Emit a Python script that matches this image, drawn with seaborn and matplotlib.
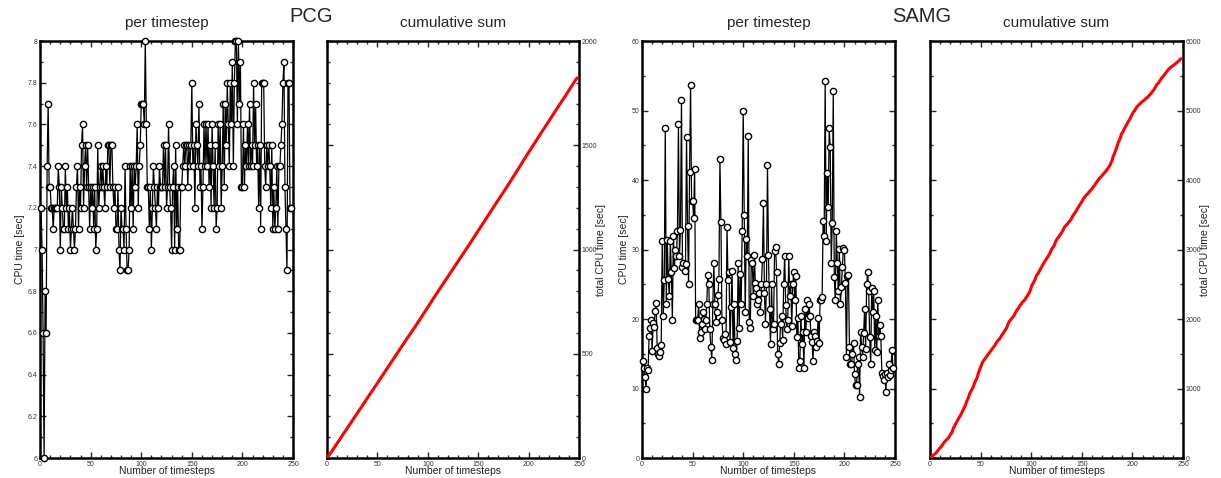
import matplotlib
matplotlib.use("Agg")
import matplotlib.pyplot as plt
import matplotlib.ticker as mticker
import numpy as np
import seaborn as sns

# CPU time per timestep [sec], PCG solver
pcg_time = [
    7.2, 7.0, 6.6, 6.0, 6.8, 6.6, 7.4, 7.7, 7.3, 7.3,
    7.2, 7.2, 7.1, 7.2, 7.2, 7.2, 7.2, 7.4, 7.3, 7.0,
    7.3, 7.2, 7.1, 7.1, 7.4, 7.2, 7.3, 7.1, 7.2, 7.0,
    7.1, 7.2, 7.1, 7.0, 7.1, 7.3, 7.4, 7.1, 7.3, 7.2,
    7.5, 7.6, 7.2, 7.4, 7.5, 7.3, 7.5, 7.3, 7.1, 7.3,
    7.2, 7.3, 7.1, 7.3, 7.0, 7.1, 7.5, 7.2, 7.3, 7.4,
    7.3, 7.4, 7.3, 7.2, 7.4, 7.3, 7.5, 7.5, 7.3, 7.5,
    7.5, 7.3, 7.2, 7.3, 7.1, 7.1, 7.3, 7.0, 6.9, 7.2,
    7.1, 7.1, 7.0, 7.4, 7.1, 6.9, 6.9, 7.0, 7.4, 7.2,
    7.4, 7.1, 7.4, 7.3, 7.4, 7.6, 7.2, 7.4, 7.5, 7.7,
    7.7, 7.7, 7.6, 8.0, 7.6, 7.3, 7.3, 7.1, 7.3, 7.0,
    7.2, 7.4, 7.3, 7.2, 7.1, 7.3, 7.2, 7.4, 7.3, 7.3,
    7.3, 7.5, 7.3, 7.5, 7.2, 7.3, 7.6, 7.3, 7.2, 7.0,
    7.3, 7.4, 7.0, 7.5, 7.1, 7.3, 7.0, 7.0, 7.3, 7.3,
    7.4, 7.5, 7.4, 7.5, 7.5, 7.3, 7.5, 7.4, 7.5, 7.8,
    7.4, 7.5, 7.2, 7.6, 7.5, 7.4, 7.7, 7.3, 7.4, 7.1,
    7.3, 7.6, 7.4, 7.6, 7.4, 7.6, 7.3, 7.5, 7.2, 7.6,
    7.4, 7.2, 7.5, 7.1, 7.2, 7.6, 7.4, 7.6, 7.2, 7.4,
    7.7, 7.3, 7.7, 7.5, 7.8, 7.6, 7.4, 7.8, 7.6, 7.9,
    7.4, 7.8, 8.0, 8.0, 7.6, 8.0, 7.7, 7.9, 7.3, 7.3,
    7.6, 7.3, 7.5, 7.4, 7.6, 7.4, 7.7, 7.4, 7.5, 7.4,
    7.8, 7.5, 7.7, 7.4, 7.5, 7.2, 7.5, 7.1, 7.8, 7.8,
    7.8, 7.4, 7.3, 7.5, 7.4, 7.5, 7.4, 7.2, 7.5, 7.1,
    7.3, 7.1, 7.2, 7.4, 7.1, 7.4, 7.4, 7.5, 7.6, 7.8,
    7.9, 7.3, 7.1, 6.9, 7.8, 7.8, 7.2, 7.2,
]

# CPU time per timestep [sec], SAMG solver
samg_time = [
    14.0, 13.0, 11.7, 10.0, 12.9, 12.6, 17.5, 18.7, 19.9, 15.4,
    19.4, 18.8, 21.1, 22.3, 15.8, 15.0, 14.7, 15.3, 16.3, 31.2,
    20.4, 25.6, 47.5, 22.2, 31.4, 25.7, 23.3, 31.2, 26.8, 19.9,
    32.0, 27.3, 30.0, 29.1, 32.6, 48.0, 29.1, 32.8, 51.5, 27.5,
    28.0, 26.9, 27.9, 46.2, 33.4, 25.1, 41.1, 53.7, 37.0, 37.0,
    34.6, 41.6, 19.8, 19.8, 19.8, 22.2, 17.2, 18.2, 19.3, 21.0,
    20.0, 18.6, 19.8, 22.2, 26.4, 25.0, 18.5, 16.0, 14.1, 22.2,
    28.0, 22.2, 19.5, 21.0, 23.4, 25.8, 43.0, 33.9, 19.8, 17.2,
    17.0, 17.8, 16.4, 33.2, 25.6, 26.8, 16.7, 21.7, 26.9, 15.8,
    22.1, 14.9, 14.1, 16.9, 28.0, 18.7, 26.5, 22.2, 32.6, 49.9,
    35.0, 21.0, 31.5, 29.1, 46.4, 19.5, 18.7, 28.5, 28.0, 23.3,
    29.2, 25.2, 24.4, 22.1, 22.8, 23.7, 21.0, 25.0, 28.6, 36.7,
    23.7, 19.3, 25.0, 42.2, 29.2, 21.5, 16.4, 25.0, 18.5, 19.3,
    29.8, 30.3, 26.8, 15.0, 13.5, 16.5, 19.3, 20.4, 17.0, 25.0,
    29.1, 22.0, 18.5, 19.8, 29.1, 23.3, 25.0, 19.0, 25.0, 26.8,
    22.7, 26.2, 17.4, 20.2, 12.9, 14.0, 20.5, 16.4, 18.2, 12.9,
    21.5, 18.2, 22.8, 20.1, 22.1, 20.5, 17.5, 16.7, 14.0, 18.2,
    17.5, 16.0, 16.8, 20.2, 16.5, 22.8, 22.8, 23.2, 34.1, 32.0,
    54.3, 31.2, 41.0, 36.1, 47.5, 44.7, 28.0, 33.8, 52.8, 26.0,
    22.7, 32.6, 28.0, 24.0, 30.1, 22.2, 24.6, 27.5, 30.2, 30.0,
    25.2, 14.6, 26.2, 26.3, 16.0, 13.5, 13.5, 15.0, 16.5, 12.1,
    10.5, 10.5, 13.5, 14.5, 8.8, 18.1, 16.0, 14.6, 18.0, 21.4,
    15.7, 25.0, 26.8, 24.0, 17.4, 13.5, 24.5, 21.0, 24.0, 15.6,
    20.4, 15.2, 22.8, 17.6, 19.1, 17.5, 12.3, 11.8, 11.2, 12.1,
    9.5, 12.3, 11.6, 13.5, 12.0, 12.6, 15.6, 13.0,
]

pcg_steps = np.arange(1, len(pcg_time) + 1)
samg_steps = np.arange(1, len(samg_time) + 1)

sns.set_style("ticks")
plt.rcParams["font.family"] = ["Liberation Sans", "DejaVu Sans"]

fig = plt.figure(figsize=(12.21, 4.78), dpi=100)
bottom, height = 0.0418, 0.8724
ax1 = fig.add_axes([0.0328, bottom, 0.2072, height])
ax2 = fig.add_axes([0.2678, bottom, 0.2064, height])
ax3 = fig.add_axes([0.5258, bottom, 0.2072, height])
ax4 = fig.add_axes([0.7617, bottom, 0.2072, height])


def style_axis(ax, ymin, ymax, ymajor, yminor, right=False):
    ax.set_xlim(0, 250)
    ax.set_ylim(ymin, ymax)
    ax.xaxis.set_major_locator(mticker.MultipleLocator(50))
    ax.xaxis.set_minor_locator(mticker.MultipleLocator(10))
    ax.yaxis.set_major_locator(mticker.MultipleLocator(ymajor))
    ax.yaxis.set_minor_locator(mticker.MultipleLocator(yminor))
    ax.yaxis.set_major_formatter(mticker.FuncFormatter(lambda v, p: "%g" % round(v, 4)))
    ax.tick_params(which="both", direction="in", top=True, right=True,
                   left=True, bottom=True, width=1, labelsize=5,
                   labelcolor="#333333", pad=2)
    ax.tick_params(which="major", length=4)
    ax.tick_params(which="minor", length=2)
    if right:
        ax.tick_params(axis="y", labelleft=False, labelright=True)
    for s in ax.spines.values():
        s.set_linewidth(1.8)
        s.set_color("black")
        s.set_zorder(1)
    ax.set_xlabel("Number of timesteps", fontsize=7.5, color="#222222")
    ax.xaxis.set_label_coords(0.5, -0.018)


def per_step(ax, steps, vals):
    sns.lineplot(x=steps, y=vals, ax=ax, color="black", linewidth=0.9,
                 marker="o", markersize=4.5, markerfacecolor="white",
                 markeredgecolor="black", markeredgewidth=1.0, clip_on=False,
                 zorder=3)
    ax.set_title("per timestep", fontsize=11, pad=10)
    ax.set_ylabel("CPU time [sec]", fontsize=7.5, color="#222222")


def cum_sum(ax, steps, vals):
    sns.lineplot(x=steps, y=np.cumsum(vals), ax=ax, color="red", linewidth=2.2)
    ax.set_title("cumulative sum", fontsize=11, pad=10)
    ax.yaxis.set_label_position("right")
    ax.set_ylabel("total CPU time [sec]", fontsize=7.5, color="#222222")


per_step(ax1, pcg_steps, pcg_time)
style_axis(ax1, 6, 8, 0.2, 0.1)
ax1.yaxis.set_label_coords(-0.058, 0.5)

cum_sum(ax2, pcg_steps, pcg_time)
style_axis(ax2, 0, 2000, 500, 100, right=True)
ax2.yaxis.set_label_coords(1.067, 0.5)

per_step(ax3, samg_steps, samg_time)
style_axis(ax3, 0, 60, 10, 5)
ax3.yaxis.set_label_coords(-0.05, 0.5)

cum_sum(ax4, samg_steps, samg_time)
style_axis(ax4, 0, 6000, 1000, 500, right=True)
ax4.yaxis.set_label_coords(1.067, 0.5)

fig.text(0.2545, 0.966, "PCG", fontsize=14.5, ha="center", va="center")
fig.text(0.7545, 0.966, "SAMG", fontsize=14.5, ha="center", va="center")

fig.savefig("out.png", dpi=100)
